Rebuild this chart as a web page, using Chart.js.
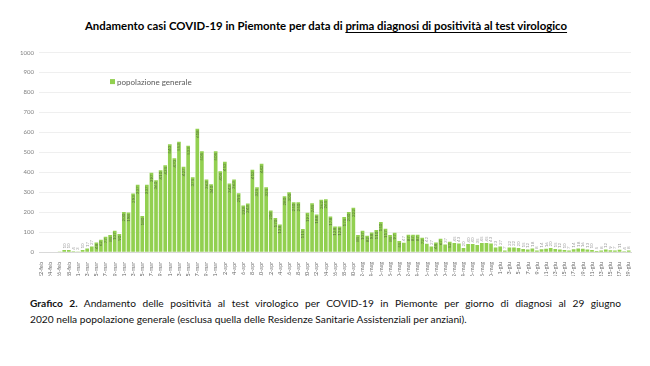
<!DOCTYPE html>
<html lang="it">
<head>
<meta charset="utf-8">
<title>Andamento casi COVID-19 in Piemonte</title>
<script src="https://cdn.jsdelivr.net/npm/chart.js@4.4.0/dist/chart.umd.min.js"></script>
<style>
	html, body { margin: 0; padding: 0; background: #fff; }
	body { width: 650px; height: 366px; position: relative; overflow: hidden; font-family: Lato, "DejaVu Sans", sans-serif; }
	.titolo { position: absolute; top: 19px; left: 0; width: 652px; text-align: center; font-weight: bold; font-size: 11.4px; color: #000; }
	.titolo u { text-decoration-thickness: 1px; text-underline-offset: 1.5px; }
	.grafico { position: absolute; top: 44px; left: 0; width: 650px; height: 232px; }
	.didascalia { position: absolute; left: 30px; width: 591px; font-size: 10.2px; color: #111; line-height: 16px; }
	.riga1 { top: 295px; text-align: justify; text-align-last: justify; }
	.riga2 { top: 311px; }
</style>
</head>
<body>
<div class="titolo">Andamento casi COVID-19 in Piemonte per data di <u>prima diagnosi di positività al test virologico</u></div>
<div class="grafico"><canvas id="casiChart" width="650" height="232"></canvas></div>
<div class="didascalia riga1"><b>Grafico 2.</b> Andamento delle positività al test virologico per COVID-19 in Piemonte per giorno di diagnosi al 29 giugno</div>
<div class="didascalia riga2">2020 nella popolazione generale (esclusa quella delle Residenze Sanitarie Assistenziali per anziani).</div>
<script>
// giorni di prima diagnosi, dal 22 febbraio al 29 giugno 2020
const giorniFeb = ['22-feb','23-feb','24-feb','25-feb','26-feb','27-feb','28-feb','29-feb'];
const giorniMar = ['1-mar','2-mar','3-mar','4-mar','5-mar','6-mar','7-mar','8-mar','9-mar','10-mar','11-mar','12-mar','13-mar','14-mar','15-mar','16-mar','17-mar','18-mar','19-mar','20-mar','21-mar','22-mar','23-mar','24-mar','25-mar','26-mar','27-mar','28-mar','29-mar','30-mar','31-mar'];
const giorniApr = ['1-apr','2-apr','3-apr','4-apr','5-apr','6-apr','7-apr','8-apr','9-apr','10-apr','11-apr','12-apr','13-apr','14-apr','15-apr','16-apr','17-apr','18-apr','19-apr','20-apr','21-apr','22-apr','23-apr','24-apr','25-apr','26-apr','27-apr','28-apr','29-apr','30-apr'];
const giorniMag = ['1-mag','2-mag','3-mag','4-mag','5-mag','6-mag','7-mag','8-mag','9-mag','10-mag','11-mag','12-mag','13-mag','14-mag','15-mag','16-mag','17-mag','18-mag','19-mag','20-mag','21-mag','22-mag','23-mag','24-mag','25-mag','26-mag','27-mag','28-mag','29-mag','30-mag','31-mag'];
const giorniGiu = ['1-giu','2-giu','3-giu','4-giu','5-giu','6-giu','7-giu','8-giu','9-giu','10-giu','11-giu','12-giu','13-giu','14-giu','15-giu','16-giu','17-giu','18-giu','19-giu','20-giu','21-giu','22-giu','23-giu','24-giu','25-giu','26-giu','27-giu','28-giu','29-giu'];
const giorni = [...giorniFeb, ...giorniMar, ...giorniApr, ...giorniMag, ...giorniGiu];

// casi per giorno (popolazione generale)
const casiFeb = [1, 0, 1, 0, 2, 10, 10, 4];
const casiMar = [3, 10, 17, 27, 48, 62, 77, 85, 107, 90, 200, 198, 293, 337, 180, 337, 397, 360, 410, 435, 540, 470, 553, 427, 533, 375, 618, 505, 363, 340, 505];
const casiApr = [405, 452, 343, 363, 295, 233, 243, 412, 325, 442, 325, 208, 170, 138, 280, 300, 250, 250, 115, 197, 245, 188, 262, 265, 178, 128, 128, 175, 200, 222];
const casiMag = [85, 107, 82, 98, 110, 150, 117, 85, 97, 55, 47, 87, 87, 87, 72, 42, 27, 48, 67, 37, 52, 45, 43, 20, 40, 40, 35, 45, 45, 43, 23];
const casiGiu = [27, 7, 22, 22, 20, 15, 12, 18, 8, 14, 16, 20, 15, 12, 10, 7, 14, 18, 16, 13, 10, 5, 8, 12, 9, 7, 11, 4, 8];
const casi = [...casiFeb, ...casiMar, ...casiApr, ...casiMag, ...casiGiu];

const yTicks = [0, 100, 200, 300, 400, 500, 600, 700, 800, 900, 1000];
const serieNome = 'popolazione generale';

function initCasiChart() {
	const verde = '#92d050';

	// valori scritti in verticale dentro (o sopra) le barre
	const etichetteBarre = {
		id: 'etichetteBarre',
		afterDatasetsDraw(chart) {
			const ctx = chart.ctx;
			const meta = chart.getDatasetMeta(0);
			ctx.save();
			ctx.font = '4.5px Lato';
			ctx.textBaseline = 'middle';
			meta.data.forEach((bar, i) => {
				const v = casi[i];
				if (v < 3) return;
				const txt = String(v);
				const h = bar.base - bar.y;
				const w = ctx.measureText(txt).width;
				ctx.save();
				ctx.translate(bar.x, bar.y);
				ctx.rotate(-Math.PI / 2);
				if (h > w + 4) {
					ctx.fillStyle = 'rgba(60,70,50,0.7)';
					ctx.textAlign = 'right';
					ctx.fillText(txt, -1.5, 0);
				} else {
					ctx.fillStyle = 'rgba(90,90,90,0.6)';
					ctx.textAlign = 'left';
					ctx.fillText(txt, 1.5, 0);
				}
				ctx.restore();
			});
			ctx.restore();
		}
	};

	// legenda dentro l'area del grafico
	const legendaInterna = {
		id: 'legendaInterna',
		afterDraw(chart) {
			const ctx = chart.ctx;
			const x = chart.chartArea.left + 71;
			const y = chart.chartArea.top + 29;
			ctx.save();
			ctx.fillStyle = verde;
			ctx.fillRect(x, y - 2.5, 5, 5);
			ctx.fillStyle = '#595959';
			ctx.font = '8px Lato';
			ctx.textBaseline = 'middle';
			ctx.fillText(serieNome, x + 7, y + 0.5);
			ctx.restore();
		}
	};

	const ctx = document.getElementById('casiChart').getContext('2d');
	new Chart(ctx, {
		type: 'bar',
		data: {
			labels: giorni,
			datasets: [{
				label: serieNome,
				data: casi,
				backgroundColor: verde,
				categoryPercentage: 1,
				barPercentage: 0.8
			}]
		},
		options: {
			responsive: false,
			animation: false,
			layout: { padding: { left: 0, right: 19, top: 7, bottom: 0 } },
			plugins: {
				legend: { display: false },
				tooltip: { enabled: false }
			},
			scales: {
				x: {
					offset: true,
					grid: { display: false },
					border: { display: true, color: '#d9d9d9' },
					afterFit: (s) => { s.height = 24; },
					ticks: {
						autoSkip: false,
						minRotation: 90,
						maxRotation: 90,
						padding: 2,
						color: '#666',
						font: { family: 'Lato', size: 5.5 },
						callback: (val, i) => (i % 2 === 0 ? giorni[i] : '')
					}
				},
				y: {
					min: 0,
					max: 1000,
					afterFit: (s) => { s.width = 39; },
					afterBuildTicks: (s) => { s.ticks = yTicks.map(v => ({ value: v })); },
					grid: { color: '#e8e8e8', lineWidth: 0.7, drawTicks: false },
					border: { display: false },
					ticks: {
						padding: 5,
						color: '#808080',
						font: { family: 'Lato', size: 6 },
						callback: (val) => String(val)
					}
				}
			}
		},
		plugins: [etichetteBarre, legendaInterna]
	});
}

initCasiChart();
</script>
</body>
</html>
